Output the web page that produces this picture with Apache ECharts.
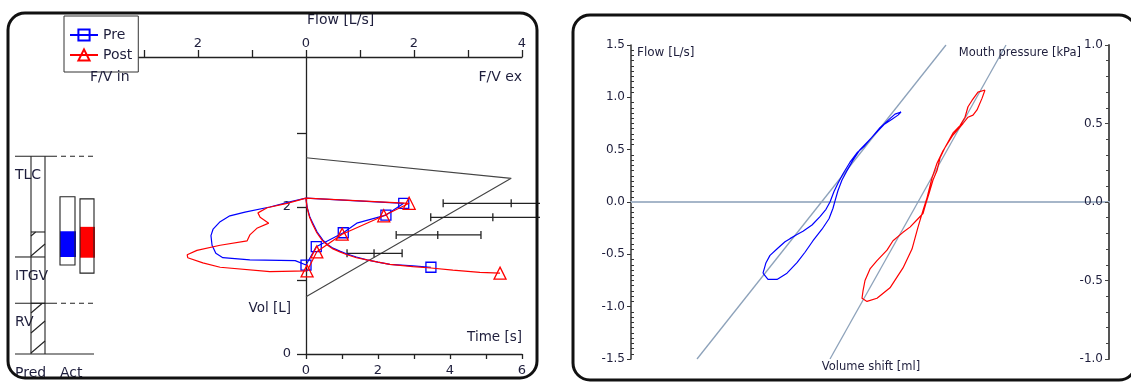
<!DOCTYPE html>
<html>
<head>
<meta charset="utf-8">
<script src="https://cdn.jsdelivr.net/npm/echarts@6/dist/echarts.min.js"></script>
<style>
html,body{margin:0;padding:0;background:#fff;}
#chart{width:1131px;height:382px;}
</style>
</head>
<body>
<div id="chart"></div>
<script>
// ---------- Flow/volume loops: [flow L/s, volume L] (expiration right, inspiration left) ----------
const fvPre = [[0,2.12],[1.81,2.05],[1.48,1.89],[0.94,1.78],[0.69,1.65],[0.19,1.46],[0,1.21],
  [-0.2,1.27],[-1.04,1.28],[-1.54,1.31],[-1.67,1.37],[-1.74,1.48],[-1.76,1.61],[-1.72,1.70],
  [-1.59,1.80],[-1.41,1.88],[-1.13,1.93],[-0.67,2.00],[-0.30,2.07],[0,2.12]];
const fvPreMarked = [1,2,4,5,6];
const fvPost = [[0,2.12],[1.91,2.05],[1.44,1.88],[0.67,1.63],[0.20,1.39],[0.02,1.13],
  [-0.67,1.12],[-1.59,1.18],[-1.91,1.24],[-2.19,1.31],[-2.20,1.35],[-2.02,1.41],[-1.59,1.48],
  [-1.09,1.54],[-1.04,1.62],[-0.91,1.71],[-0.69,1.78],[-0.85,1.86],[-0.89,1.92],[-0.72,1.99],
  [-0.35,2.05],[0,2.12]];
const fvPostMarked = [1,2,3,4,5];

// ---------- Volume/time curves: [time s, volume L] ----------
const tvPre = [[0,2.11],[0.03,2.0],[0.11,1.86],[0.19,1.78],[0.31,1.66],[0.47,1.55],[0.6,1.49],
  [0.75,1.44],[0.94,1.40],[1.14,1.36],[1.4,1.32],[1.69,1.28],[2.0,1.25],[2.33,1.22],[2.97,1.20],[3.47,1.18]];
const tvPost = [[0,2.11],[0.03,1.99],[0.1,1.86],[0.18,1.77],[0.3,1.65],[0.46,1.54],[0.6,1.48],
  [0.75,1.43],[0.94,1.39],[1.14,1.35],[1.4,1.31],[1.69,1.28],[2.0,1.25],[2.33,1.22],[2.97,1.19],
  [3.47,1.17],[4.08,1.14],[4.83,1.11],[5.39,1.10]];

// ---------- Predicted flow/volume outline and predicted ranges ----------
const predFV = [[0,2.67],[3.8,2.39],[0,0.78]];
// [volume, lower limit, predicted, upper limit] for PEF, MEF75, MEF50, MEF25
const predRanges = [[2.05,2.54,3.80,5.06],[1.86,2.31,3.46,4.61],[1.62,1.67,2.44,3.24],[1.37,0.76,1.26,1.78]];

// ---------- Lung volumes (L) ----------
const lvLabels = ['TLC','ITGV','RV'];
const lvPred = [2.69, 1.32, 0.69];
const lvDashed = [true, false, true];
const predHatch = [[1.32,1.66],[0,0.69]];
const lvColumns = ['Pred','Act'];
const actPreBox = [1.21, 2.14], actPreFill = [1.32, 1.67];
const actPostBox = [1.10, 2.11], actPostFill = [1.31, 1.73];

// ---------- Tick values ----------
const flowTicks = [-3,-2,-1,0,1,2,3,4];
const flowLabels = [-2,0,2,4];
const volTicks = [0,1,2,3];
const volLabels = [0,2];
const timeMax = 6;

// ---------- Specific resistance loops: [volume shift, flow L/s] ----------
const sRawPre = [[-10.8,-0.68],[-10.5,-0.58],[-10.1,-0.51],[-9.3,-0.44],[-8.6,-0.38],[-8.1,-0.35],
  [-7.4,-0.31],[-6.8,-0.28],[-5.9,-0.22],[-5.1,-0.14],[-4.5,-0.07],[-4.1,0.00],[-3.7,0.10],[-3.3,0.18],
  [-2.8,0.27],[-2.1,0.38],[-1.4,0.47],[-0.7,0.53],[0.1,0.62],[0.9,0.71],[1.7,0.78],[2.4,0.84],[3.0,0.86],
  [2.7,0.83],[2.1,0.79],[1.3,0.74],[0.7,0.68],[-0.3,0.58],[-1.1,0.50],[-1.8,0.40],[-2.4,0.30],[-2.9,0.21],
  [-3.3,0.11],[-3.6,0.01],[-3.8,-0.06],[-4.2,-0.16],[-4.9,-0.26],[-5.8,-0.37],[-6.6,-0.48],[-7.4,-0.58],
  [-8.4,-0.68],[-9.4,-0.74],[-10.3,-0.74],[-10.8,-0.68]];
const sRawPost = [[11.4,1.07],[10.7,1.05],[10.1,0.97],[9.7,0.91],[9.4,0.81],[8.9,0.73],[8.2,0.66],
  [7.4,0.52],[6.9,0.42],[6.6,0.30],[6.2,0.21],[5.8,0.08],[5.5,-0.01],[5.2,-0.11],[4.7,-0.16],[3.9,-0.24],
  [3.2,-0.29],[2.2,-0.37],[1.6,-0.46],[0.6,-0.56],[-0.1,-0.64],[-0.6,-0.75],[-0.8,-0.85],[-0.9,-0.92],
  [-0.4,-0.95],[0.6,-0.92],[1.9,-0.82],[3.2,-0.63],[4.1,-0.45],[4.7,-0.24],[5.2,-0.08],[5.6,0.04],
  [6.1,0.23],[6.6,0.37],[7.2,0.49],[8.2,0.64],[9.2,0.75],[9.7,0.81],[10.2,0.83],[10.6,0.88],[11.1,0.99],[11.4,1.07]];
const sRawFitPre = [[-17.4,-1.5],[7.5,1.5]];
const sRawFitPost = [[-4.1,-1.5],[13.5,1.5]];

// ---------- Styling ----------
const FONT = 'DejaVu Sans';
const INK = '#222';
const TXT = '#1e1e3c';
const BLUE = '#0000ff', RED = '#ff0000';
const FIT = '#8da2ba';
const VOL_MAX = 297 / 73.5;

function withMarkers(points, marked) {
  return points.map((p, i) => marked.includes(i) ? { value: p } : { value: p, symbol: 'none' });
}

function drawRange(params, api) {
  const cs = params.coordSys;
  const right = cs.x + cs.width;
  const vol = api.value(0);
  const xs = [api.value(1), api.value(2), api.value(3)].map(f => api.coord([f, vol])[0]);
  const y = api.coord([0, vol])[1];
  const st = { stroke: INK, lineWidth: 1.3 };
  const children = [{ type: 'line', shape: { x1: xs[0], y1: y, x2: Math.min(xs[2], right), y2: y }, style: st }];
  xs.forEach(x => {
    if (x <= right) children.push({ type: 'line', shape: { x1: x, y1: y - 4, x2: x, y2: y + 4 }, style: st });
  });
  return { type: 'group', children };
}

function drawLungVolumes(params, api) {
  const cs = params.coordSys;
  const x0 = cs.x;
  const Y = v => api.coord([0, v])[1];
  const els = [];
  const seg = (xa, ya, xb, yb, dash) => els.push({ type: 'line',
    shape: { x1: xa, y1: ya, x2: xb, y2: yb },
    style: { stroke: INK, lineWidth: 1.1, lineDash: dash || null } });
  const text = (t, x, y) => els.push({ type: 'text', x, y,
    style: { text: t, fill: TXT, font: '14px ' + FONT, align: 'left', verticalAlign: 'middle' } });

  const colL = x0 + 16, colR = x0 + 30, solidEnd = x0 + 37, lineEnd = x0 + 79;
  const yBase = Y(0), yTop = Y(lvPred[0]);

  lvLabels.forEach((t, i) => text(t, x0, Y(lvPred[i]) + 19.5));
  text(lvColumns[0], x0, yBase + 19.5);
  text(lvColumns[1], x0 + 45, yBase + 19.5);

  // hatched bands of the predicted column
  predHatch.forEach(([lo, hi]) => {
    const yb = Y(lo), yt = Y(hi);
    for (let y = yb - 1; y > yt + 1; y -= 20) {
      const top = Math.max(y - 12, yt);
      const frac = (y - top) / 12;
      seg(colL, y, colL + 14 * frac, top);
    }
    seg(colL, yt, colR, yt);
  });
  seg(colL, yTop, colL, yBase);
  seg(colR, yTop, colR, yBase);

  lvPred.forEach((v, i) => {
    const y = Y(v);
    if (lvDashed[i]) { seg(x0, y, solidEnd, y); seg(solidEnd, y, lineEnd, y, [5, 4]); }
    else seg(x0, y, colR, y);
  });
  seg(x0, yBase, lineEnd, yBase);

  [[actPreBox, actPreFill, BLUE, 45, 15], [actPostBox, actPostFill, RED, 65, 14]].forEach(([box, fill, color, dx, w]) => {
    const xl = x0 + dx;
    els.push({ type: 'rect', shape: { x: xl, y: Y(fill[1]), width: w + 1, height: Y(fill[0]) - Y(fill[1]) }, style: { fill: color } });
    els.push({ type: 'rect', shape: { x: xl, y: Y(box[1]), width: w, height: Y(box[0]) - Y(box[1]) },
      style: { fill: 'none', stroke: INK, lineWidth: 1.1 } });
  });
  return { type: 'group', children: els };
}

const axisFont = { fontFamily: FONT, color: TXT };
const hidden = { show: false };

const chart = echarts.init(document.getElementById('chart'), null, { renderer: 'canvas' });

function label(t, x, y, size, align) {
  return { type: 'text', x, y, z: 50,
    style: { text: t, fill: TXT, font: size + 'px ' + FONT, align: align || 'left', verticalAlign: 'middle' } };
}

chart.setOption({
  animation: false,
  backgroundColor: '#fff',
  grid: [
    { left: 90, right: 591, top: 57, bottom: 28 },   // flow/volume
    { left: 90, right: 609, top: 57, height: 1 },    // flow scale
    { left: 306, right: 609, top: 57, bottom: 28 },  // volume/time
    { left: 15, right: 1036, top: 57, bottom: 28 },  // lung volumes
    { left: 631, right: 22, top: 45, bottom: 23 }    // specific resistance
  ],
  xAxis: [
    { gridIndex: 0, type: 'value', min: -4, max: 4 + 1 / 3, show: false },
    { gridIndex: 1, type: 'value', position: 'top', min: -4, max: 4, interval: 1,
      axisLine: { onZero: false, lineStyle: { color: INK, width: 1.3 } },
      axisTick: { length: 7, lineStyle: { color: INK, width: 1.3 }, customValues: flowTicks },
      axisLabel: { ...axisFont, fontSize: 13, margin: 7, customValues: flowLabels,
        formatter: v => String(Math.abs(v)) },
      splitLine: hidden },
    { gridIndex: 2, type: 'value', min: 0, max: timeMax, interval: 1,
      axisLine: { onZero: false, lineStyle: { color: INK, width: 1.3 } },
      axisTick: { length: 5, lineStyle: { color: INK, width: 1.3 } },
      axisLabel: { ...axisFont, fontSize: 13, margin: 10, formatter: v => (v % 2 === 0 ? String(v) : '') },
      splitLine: hidden },
    { gridIndex: 3, type: 'value', min: 0, max: 1, show: false },
    { gridIndex: 4, type: 'value', min: -24, max: 23.8,
      axisLine: { show: true, onZero: true, lineStyle: { color: '#a6b6c9', width: 2 } },
      axisTick: hidden, axisLabel: hidden, splitLine: hidden }
  ],
  yAxis: [
    { gridIndex: 0, type: 'value', min: 0, max: VOL_MAX, show: false },
    { gridIndex: 1, type: 'value', min: 0, max: 1, show: false },
    { gridIndex: 2, type: 'value', min: 0, max: VOL_MAX,
      axisLine: { onZero: false, lineStyle: { color: INK, width: 1.3 } },
      axisTick: { length: 9, lineStyle: { color: INK, width: 1.3 }, customValues: volTicks },
      axisLabel: { ...axisFont, fontSize: 13, margin: 15, customValues: volLabels },
      splitLine: hidden },
    { gridIndex: 3, type: 'value', min: 0, max: VOL_MAX, show: false },
    { gridIndex: 4, type: 'value', position: 'left', min: -1.5, max: 1.5, interval: 0.5,
      axisLine: { onZero: false, lineStyle: { color: '#333', width: 1.5 } },
      axisTick: { length: 4, lineStyle: { color: '#333' } },
      axisLabel: { ...axisFont, fontSize: 12, margin: 6, formatter: v => v.toFixed(1) },
      splitLine: hidden },
    { gridIndex: 4, type: 'value', position: 'right', min: -1, max: 1, interval: 0.5,
      axisLine: { onZero: false, lineStyle: { color: '#555', width: 2 } },
      axisTick: { inside: true, length: 4, lineStyle: { color: '#444' } },
      minorTick: { show: true, splitNumber: 5, length: 3, lineStyle: { color: '#444' } },
      axisLabel: { ...axisFont, fontSize: 12, inside: true, margin: 6, formatter: v => v.toFixed(1) },
      splitLine: hidden },
    { gridIndex: 4, type: 'value', position: 'left', min: -1.5, max: 1.5, interval: 0.5,
      axisLine: { show: false, onZero: false },
      axisTick: { show: false, inside: true },
      minorTick: { show: true, splitNumber: 10, length: 3, lineStyle: { color: '#333' } },
      axisLabel: hidden, splitLine: hidden }
  ],
  legend: {
    data: ['Pre', 'Post'], orient: 'vertical', left: 64, top: 16,
    padding: [11, 6, 9, 5], itemWidth: 28, itemHeight: 14, itemGap: 4,
    backgroundColor: '#fff', borderColor: '#333', borderWidth: 1,
    selectedMode: false, z: 20,
    textStyle: { fontSize: 14, fontFamily: FONT, color: TXT, lineHeight: 16 }
  },
  series: [
    { type: 'line', name: 'Predicted', xAxisIndex: 0, yAxisIndex: 0, data: predFV,
      symbol: 'none', silent: true, lineStyle: { color: '#444', width: 1.1 }, z: 1 },
    { type: 'custom', name: 'Predicted range', xAxisIndex: 0, yAxisIndex: 0,
      data: predRanges, encode: { x: [1, 2, 3], y: 0 }, renderItem: drawRange, silent: true, z: 2 },
    { type: 'custom', name: 'Lung volumes', xAxisIndex: 3, yAxisIndex: 3,
      data: [[0, 0]], renderItem: drawLungVolumes, silent: true, z: 2 },
    { type: 'line', name: 'Pre', xAxisIndex: 0, yAxisIndex: 0, data: withMarkers(fvPre, fvPreMarked),
      symbol: 'rect', symbolSize: 10, silent: true,
      itemStyle: { color: 'rgba(255,255,255,0)', borderColor: BLUE, borderWidth: 1.3 },
      lineStyle: { color: BLUE, width: 1.2 }, z: 3 },
    { type: 'line', name: 'Pre', xAxisIndex: 2, yAxisIndex: 2, data: withMarkers(tvPre, [tvPre.length - 1]),
      symbol: 'rect', symbolSize: 10, silent: true,
      itemStyle: { color: 'rgba(255,255,255,0)', borderColor: BLUE, borderWidth: 1.3 },
      lineStyle: { color: BLUE, width: 1.2 }, z: 3 },
    { type: 'line', name: 'Post', xAxisIndex: 0, yAxisIndex: 0, data: withMarkers(fvPost, fvPostMarked),
      symbol: 'triangle', symbolSize: 12, silent: true,
      itemStyle: { color: 'rgba(255,255,255,0)', borderColor: RED, borderWidth: 1.3 },
      lineStyle: { color: RED, width: 1.2 }, z: 4 },
    { type: 'line', name: 'Post', xAxisIndex: 2, yAxisIndex: 2, data: withMarkers(tvPost, [tvPost.length - 1]),
      symbol: 'triangle', symbolSize: 12, silent: true,
      itemStyle: { color: 'rgba(255,255,255,0)', borderColor: RED, borderWidth: 1.3 },
      lineStyle: { color: RED, width: 1.2 }, z: 4 },
    { type: 'line', name: 'sRaw fit pre', xAxisIndex: 4, yAxisIndex: 4, data: sRawFitPre,
      symbol: 'none', silent: true, lineStyle: { color: FIT, width: 1.3 }, z: 2 },
    { type: 'line', name: 'sRaw fit post', xAxisIndex: 4, yAxisIndex: 4, data: sRawFitPost,
      symbol: 'none', silent: true, lineStyle: { color: FIT, width: 1.3 }, z: 2 },
    { type: 'line', name: 'sRaw pre', xAxisIndex: 4, yAxisIndex: 4, data: sRawPre,
      symbol: 'none', silent: true, lineStyle: { color: BLUE, width: 1.2 }, z: 3 },
    { type: 'line', name: 'sRaw post', xAxisIndex: 4, yAxisIndex: 4, data: sRawPost,
      symbol: 'none', silent: true, lineStyle: { color: RED, width: 1.2 }, z: 3 }
  ],
  graphic: [
    { type: 'rect', z: 100, silent: true, shape: { x: 8, y: 13, width: 529, height: 365, r: 17 },
      style: { fill: 'none', stroke: '#111', lineWidth: 3 } },
    { type: 'rect', z: 100, silent: true, shape: { x: 573, y: 15, width: 563, height: 365, r: 17 },
      style: { fill: 'none', stroke: '#111', lineWidth: 3 } },
    label('Flow [L/s]', 307, 20, 14),
    label('F/V in', 90, 77, 14),
    label('F/V ex', 522, 77, 14, 'right'),
    label('Vol [L]', 291, 308, 13.5, 'right'),
    label('Time [s]', 522, 337, 13.5, 'right'),
    label('Flow [L/s]', 637, 53, 12),
    label('Mouth pressure [kPa]', 1081, 53, 11.5, 'right'),
    label('Volume shift [ml]', 871, 367, 11.5, 'center')
  ]
});
</script>
</body>
</html>
